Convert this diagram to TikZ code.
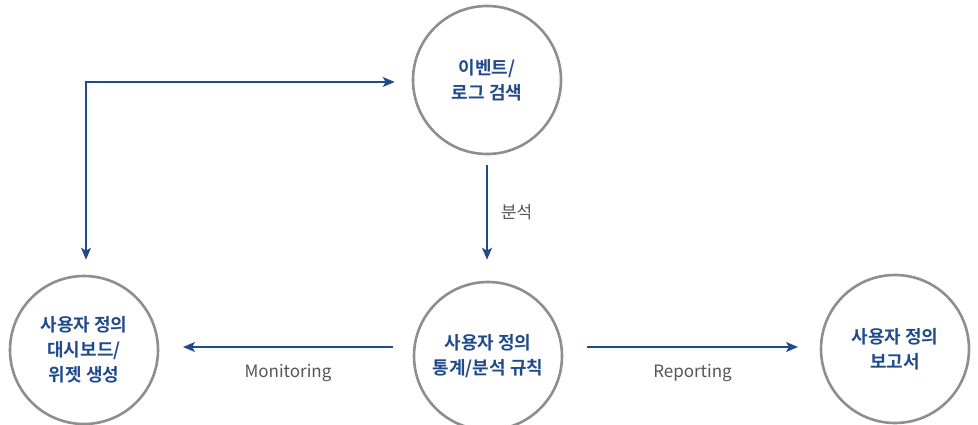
\documentclass[tikz,border=0pt]{standalone}
\usepackage{fontspec}
\setmainfont{Noto Sans CJK KR}
\newfontfamily\krbold{Noto Sans CJK KR Bold}
\usetikzlibrary{arrows.meta}
\definecolor{navy}{HTML}{1F4A8C}
\definecolor{ring}{HTML}{8E8E8E}
\definecolor{lbl}{HTML}{555555}
\tikzset{
  bubble/.style={circle,draw=ring,line width=2.6pt,minimum size=148pt,inner sep=0pt,
    align=center,text=navy,font=\krbold\fontsize{18}{25}\selectfont},
  tipstyle/.style={Stealth[length=12pt,width=10pt,inset=3pt]},
  flow/.style={draw=navy,line width=1.4pt,-{Stealth[length=12pt,width=10pt,inset=3pt]}},
  twoway/.style={draw=navy,line width=1.4pt,{Stealth[length=12pt,width=10pt,inset=3pt]}-{Stealth[length=12pt,width=10pt,inset=3pt]}},
  tag/.style={text=lbl,font=\fontsize{17}{20}\selectfont}
}
\begin{document}
\begin{tikzpicture}[x=1pt,y=-1pt]
\useasboundingbox (0,0) rectangle (978,425);
\node[bubble] (evt) at (487,80) {이벤트/\\로그 검색};
\node[bubble] (dash) at (84,350) {사용자 정의\\대시보드/\\위젯 생성};
\node[bubble] (stat) at (488,356) {사용자 정의\\통계/분석 규칙};
\node[bubble] (rep) at (895,349) {사용자 정의\\보고서};
\coordinate (corner) at (86,82);
\coordinate (ltip) at ([yshift=15pt]corner |- dash.north);
\coordinate (mstart) at (393,347);
\coordinate (mend) at (183,347);
\coordinate (rstart) at (587,347);
\coordinate (rend) at (798,347);
\draw[twoway,line join=miter] (ltip) -- (corner) -- ([xshift=-17pt]evt.west |- corner);
\draw[flow] ([yshift=-10pt]evt.south) -- node[right=10pt,tag]{분석} ([yshift=21pt]evt.south |- stat.north);
\draw[flow] (mstart) -- node[below=13pt,tag]{Monitoring} (mend);
\draw[flow] (rstart) -- node[below=13pt,tag]{Reporting} (rend);
\end{tikzpicture}
\end{document}
